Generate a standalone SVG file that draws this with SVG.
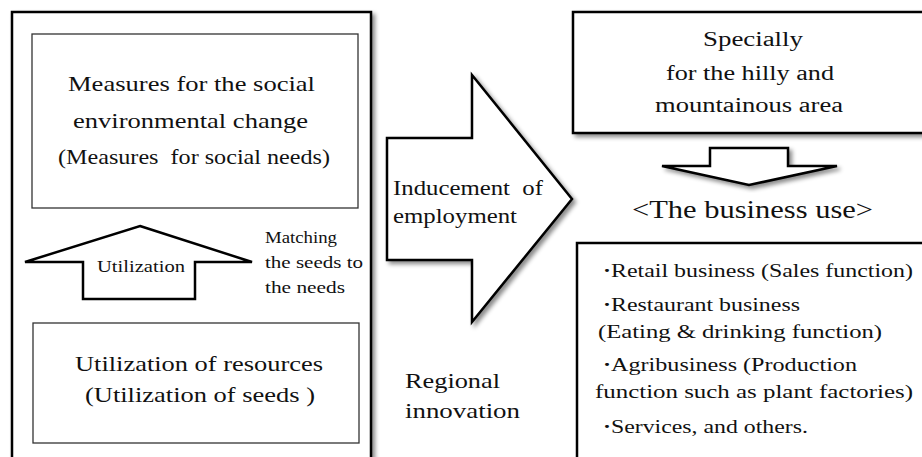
<svg xmlns="http://www.w3.org/2000/svg" width="922" height="457" viewBox="0 0 922 457">
<defs>
<filter id="sh" x="-10%" y="-10%" width="130%" height="130%">
<feDropShadow dx="3" dy="3" stdDeviation="2" flood-color="#000" flood-opacity="0.45"/>
</filter>
<style>
text{font-family:"Liberation Serif","Times New Roman",serif;fill:#111;}
.box{fill:#fff;stroke:#000;stroke-width:2.5;}
.inner{fill:#fff;stroke:#333;stroke-width:1.3;}
.arrow{fill:#fff;stroke:#000;stroke-width:2.5;stroke-linejoin:miter;}
.f22{font-size:22px;}
.f20{font-size:20px;}
.f19{font-size:19px;}
.f17{font-size:17px;}
.f16{font-size:16px;}
.f25{font-size:25px;}
.dot{font-weight:bold;}
</style>
</defs>
<rect width="922" height="457" fill="#fff"/>

<g id="left-panel">
<rect class="box" x="12" y="12" width="359" height="470" filter="url(#sh)"/>
</g>

<g id="social-needs">
<rect class="inner" x="32" y="34" width="326" height="174"/>
<text class="f22" x="68" y="91" textLength="247" lengthAdjust="spacingAndGlyphs">Measures for the social</text>
<text class="f22" x="73" y="128" textLength="235" lengthAdjust="spacingAndGlyphs">environmental change</text>
<text class="f22" x="58" y="164" textLength="272" lengthAdjust="spacingAndGlyphs" xml:space="preserve">(Measures  for social needs)</text>
</g>

<g id="resources">
<rect class="inner" x="33" y="323" width="326" height="120"/>
<text class="f22" x="75" y="371" textLength="248" lengthAdjust="spacingAndGlyphs">Utilization of resources</text>
<text class="f22" x="85" y="402" textLength="230" lengthAdjust="spacingAndGlyphs">(Utilization of seeds )</text>
</g>

<g id="matching-label">
<text class="f16" x="265" y="243" textLength="72" lengthAdjust="spacingAndGlyphs">Matching</text>
<text class="f16" x="265" y="268" textLength="98" lengthAdjust="spacingAndGlyphs">the seeds to</text>
<text class="f16" x="265" y="293" textLength="80" lengthAdjust="spacingAndGlyphs">the needs</text>
</g>

<g id="regional-innovation">
<text class="f22" x="405" y="388" textLength="95" lengthAdjust="spacingAndGlyphs">Regional</text>
<text class="f22" x="405" y="418" textLength="115" lengthAdjust="spacingAndGlyphs">innovation</text>
</g>

<g id="hilly-area">
<rect class="box" x="573" y="12" width="360" height="121" filter="url(#sh)"/>
<text class="f20" x="703" y="46" textLength="100" lengthAdjust="spacingAndGlyphs">Specially</text>
<text class="f20" x="666" y="80" textLength="168" lengthAdjust="spacingAndGlyphs">for the hilly and</text>
<text class="f20" x="655" y="112" textLength="188" lengthAdjust="spacingAndGlyphs">mountainous area</text>
</g>

<g id="business-use-title">
<text class="f25" x="632" y="218" textLength="241" lengthAdjust="spacingAndGlyphs">&lt;The business use&gt;</text>
</g>

<g id="business-list">
<rect class="box" x="577" y="243" width="360" height="240"/>
<text class="f19" x="603" y="277" textLength="310" lengthAdjust="spacingAndGlyphs"><tspan class="dot">·</tspan>Retail business (Sales function)</text>
<text class="f19" x="603" y="311" textLength="197" lengthAdjust="spacingAndGlyphs"><tspan class="dot">·</tspan>Restaurant business</text>
<text class="f19" x="598" y="338" textLength="284" lengthAdjust="spacingAndGlyphs">(Eating &amp; drinking function)</text>
<text class="f19" x="603" y="371" textLength="254" lengthAdjust="spacingAndGlyphs"><tspan class="dot">·</tspan>Agribusiness (Production</text>
<text class="f19" x="595" y="398" textLength="318" lengthAdjust="spacingAndGlyphs">function such as plant factories)</text>
<text class="f19" x="603" y="433" textLength="205" lengthAdjust="spacingAndGlyphs"><tspan class="dot">·</tspan>Services, and others.</text>
</g>

<g id="connectors">
<g id="utilization-arrow">
<path class="arrow" d="M140,226 L252,262 L195,262 L195,299 L83,299 L83,262 L25,262 Z"/>
<text class="f17" x="97" y="272" textLength="88" lengthAdjust="spacingAndGlyphs">Utilization</text>
</g>
<g id="employment-arrow">
<path class="arrow" d="M387,138 L472,138 L472,75 L572,199 L472,322 L472,260 L387,260 Z" filter="url(#sh)"/>
<text class="f20" x="393" y="195" textLength="150" lengthAdjust="spacingAndGlyphs" xml:space="preserve">Inducement  of</text>
<text class="f20" x="393" y="223" textLength="124" lengthAdjust="spacingAndGlyphs">employment</text>
</g>
<g id="down-arrow">
<path class="arrow" d="M710,148 L788,148 L788,166 L837,166 L749,185 L662,166 L710,166 Z" filter="url(#sh)"/>
</g>
</g>
</svg>
